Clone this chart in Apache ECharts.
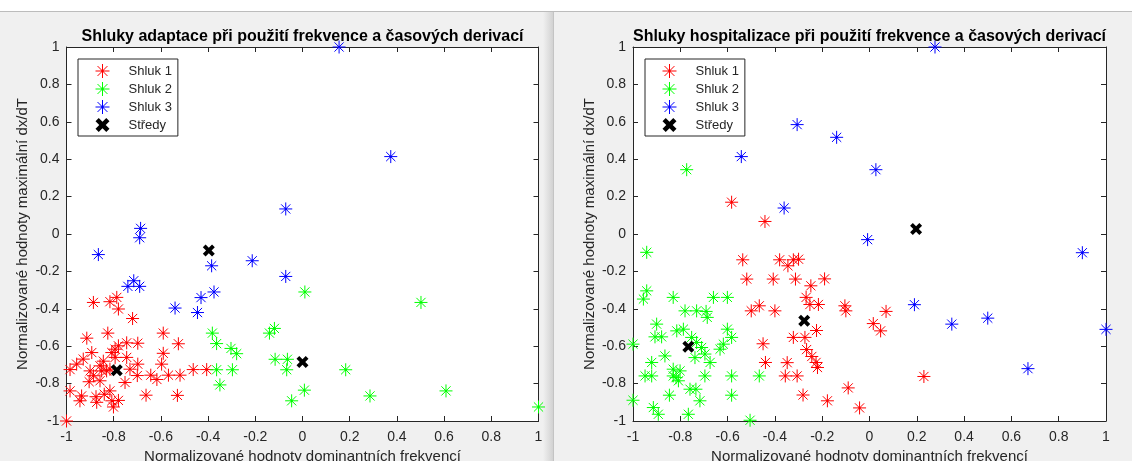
<!DOCTYPE html>
<html>
<head>
<meta charset="utf-8">
<script src="https://cdn.jsdelivr.net/npm/echarts@6/dist/echarts.min.js"></script>
<style>
html,body{margin:0;padding:0;background:#f0f0f0;}
#c{width:1132px;height:461px;}
</style>
</head>
<body>
<div id="c"></div>
<script>
// ---------- DATA ----------
const seriesNames = ['Shluk 1', 'Shluk 2', 'Shluk 3', 'Středy'];
const titles = ['Shluky adaptace při použití frekvence a časových derivací',
                'Shluky hospitalizace při použití frekvence a časových derivací'];
const xAxisName = 'Normalizované hodnoty dominantních frekvencí';
const yAxisName = 'Normalizované hodnoty maximální dx/dT';
const axisMin = -1, axisMax = 1, axisStep = 0.2;

const leftShluk1 = [
  [-0.886,-0.366],[-0.816,-0.362],[-0.787,-0.339],[-0.78,-0.401],[-0.72,-0.452],
  [-0.914,-0.557],[-0.825,-0.53],[-0.59,-0.53],[-0.526,-0.587],[-0.698,-0.584],
  [-0.745,-0.582],[-0.78,-0.598],[-0.794,-0.616],[-0.59,-0.638],[-0.597,-0.696],
  [-0.893,-0.634],[-0.929,-0.669],[-0.957,-0.696],[-0.985,-0.725],[-0.463,-0.725],
  [-0.406,-0.725],[-0.519,-0.755],[-0.568,-0.755],[-0.643,-0.755],[-0.7,-0.757],
  [-0.698,-0.696],[-0.745,-0.66],[-0.617,-0.778],[-0.752,-0.794],[-0.985,-0.839],
  [-0.936,-0.866],[-0.943,-0.892],[-0.875,-0.87],[-0.872,-0.9],[-0.84,-0.857],
  [-0.816,-0.839],[-0.808,-0.892],[-0.801,-0.925],[-0.78,-0.89],[-0.663,-0.862],
  [-0.53,-0.863],[-1.0,-1.0],[-0.858,-0.705],[-0.886,-0.758],[-0.904,-0.79],
  [-0.83,-0.732],[-0.844,-0.68],[-0.794,-0.66],[-0.808,-0.634],[-0.9,-0.732],
  [-0.851,-0.732],[-0.816,-0.723],[-0.731,-0.723],[-0.858,-0.785]
];
const leftShluk2 = [
  [0.01,-0.31],[-0.382,-0.53],[-0.364,-0.586],[-0.303,-0.612],[-0.279,-0.64],
  [-0.119,-0.505],[-0.14,-0.53],[-0.116,-0.67],[-0.064,-0.67],[-0.067,-0.726],
  [-0.364,-0.726],[-0.297,-0.726],[-0.35,-0.807],[-0.046,-0.892],[0.008,-0.835],
  [0.183,-0.726],[0.286,-0.866],[0.502,-0.366],[0.608,-0.839],[1.0,-0.925]
];
const leftShluk3 = [
  [0.155,1.0],[0.374,0.414],[-0.071,0.134],[-0.686,0.03],[-0.69,-0.02],
  [-0.865,-0.11],[-0.385,-0.17],[-0.213,-0.143],[-0.74,-0.28],[-0.715,-0.25],
  [-0.69,-0.28],[-0.43,-0.34],[-0.375,-0.31],[-0.54,-0.396],[-0.445,-0.42],
  [-0.071,-0.227]
];
const leftCenters = [[-0.397,-0.088],[0.0,-0.684],[-0.787,-0.728]];

const rightShluk1 = [
  [-0.583,0.17],[-0.442,0.067],[-0.536,-0.138],[-0.38,-0.138],[-0.345,-0.17],
  [-0.322,-0.138],[-0.3,-0.135],[-0.519,-0.241],[-0.407,-0.241],[-0.313,-0.241],
  [-0.19,-0.24],[-0.248,-0.277],[-0.268,-0.339],[-0.252,-0.377],[-0.216,-0.377],
  [-0.104,-0.384],[-0.1,-0.411],[0.07,-0.414],[0.016,-0.479],[0.047,-0.518],
  [-0.466,-0.384],[-0.5,-0.411],[-0.4,-0.411],[-0.224,-0.516],[-0.322,-0.553],
  [-0.273,-0.553],[-0.45,-0.587],[-0.266,-0.618],[-0.244,-0.655],[-0.226,-0.687],
  [-0.22,-0.714],[-0.44,-0.687],[-0.348,-0.688],[-0.356,-0.759],[-0.306,-0.759],
  [-0.09,-0.823],[-0.281,-0.861],[-0.178,-0.892],[-0.042,-0.93],[0.23,-0.762]
];
const rightShluk2 = [
  [-0.773,0.344],[-0.942,-0.098],[-0.942,-0.304],[-0.956,-0.348],[-0.83,-0.339],
  [-0.78,-0.411],[-0.731,-0.411],[-0.691,-0.414],[-0.686,-0.446],[-0.66,-0.339],
  [-0.601,-0.339],[-0.9,-0.482],[-0.907,-0.55],[-0.879,-0.55],[-1.0,-0.589],
  [-0.815,-0.518],[-0.787,-0.509],[-0.752,-0.553],[-0.731,-0.58],[-0.71,-0.607],
  [-0.738,-0.661],[-0.696,-0.642],[-0.674,-0.687],[-0.865,-0.652],[-0.921,-0.687],
  [-0.949,-0.759],[-0.921,-0.759],[-0.83,-0.723],[-0.801,-0.732],[-0.83,-0.759],
  [-0.818,-0.768],[-0.808,-0.785],[-0.696,-0.759],[-0.632,-0.616],[-0.618,-0.589],
  [-0.601,-0.509],[-0.583,-0.553],[-0.583,-0.759],[-0.466,-0.759],[-0.583,-0.862],
  [-0.846,-0.862],[-0.759,-0.83],[-0.734,-0.83],[-0.717,-0.892],[-1.0,-0.889],
  [-0.914,-0.928],[-0.893,-0.964],[-0.766,-0.964],[-0.505,-0.996]
];
const rightShluk3 = [
  [0.277,1.0],[-0.306,0.585],[-0.139,0.517],[-0.542,0.414],[0.027,0.344],
  [-0.361,0.139],[-0.008,-0.03],[0.19,-0.378],[0.348,-0.482],[0.5,-0.45],
  [0.67,-0.72],[0.9,-0.1],[1.0,-0.51]
];
const rightCenters = [[0.197,0.027],[-0.276,-0.464],[-0.766,-0.603]];

// ---------- STYLE ----------
const FONT = '"Liberation Sans", Arial, Helvetica, sans-serif';
const AX = '#262626';
const colors = ['#ff0000', '#00ff00', '#0000ff', '#000000'];
const STAR = 'path://M10 0L10 20M0 10L20 10M2.93 2.93L17.07 17.07M17.07 2.93L2.93 17.07M9.1 9.1L10.9 9.1L10.9 10.9L9.1 10.9Z';
const XMARK = 'path://M0 2.3L2.3 0L5 2.7L7.7 0L10 2.3L7.3 5L10 7.7L7.7 10L5 7.3L2.3 10L0 7.7L2.7 5Z';

const grids = [
  {left: 66.5, top: 47, width: 472, height: 374},
  {left: 633, top: 47, width: 473, height: 374}
];

const xAxes = [], yAxes = [];
grids.forEach((g, gi) => {
  const base = {
    type: 'value', gridIndex: gi, min: axisMin, max: axisMax, interval: axisStep,
    axisLine: {show: true, onZero: false, lineStyle: {color: AX, width: 1}},
    axisTick: {show: true, inside: true, length: 5, lineStyle: {color: AX, width: 1}},
    splitLine: {show: false}
  };
  xAxes.push(Object.assign({}, base, {
    position: 'bottom',
    axisLabel: {show: true, margin: 9, color: AX, fontSize: 14, fontFamily: FONT},
    name: xAxisName, nameLocation: 'middle', nameGap: 27,
    nameTextStyle: {color: AX, fontSize: 15, fontFamily: FONT}
  }));
  xAxes.push(Object.assign({}, base, {position: 'top', axisLabel: {show: false}}));
  yAxes.push(Object.assign({}, base, {
    position: 'left',
    axisLabel: {show: true, margin: 7, color: AX, fontSize: 14, fontFamily: FONT},
    name: yAxisName, nameLocation: 'middle', nameGap: 36,
    nameTextStyle: {color: AX, fontSize: 15, fontFamily: FONT}
  }));
  yAxes.push(Object.assign({}, base, {position: 'right', axisLabel: {show: false}}));
});

function mk(name, data, gi, idx) {
  const isCenter = idx === 3;
  return {
    type: 'scatter', name: name, data: data,
    xAxisIndex: gi * 2, yAxisIndex: gi * 2,
    symbol: isCenter ? XMARK : STAR,
    symbolSize: isCenter ? 12 : 13,
    clip: false,
    itemStyle: {color: colors[idx], borderColor: colors[idx], borderWidth: isCenter ? 0 : 1, opacity: 1},
    emphasis: {disabled: true},
    z: 2 + idx
  };
}

const series = [
  mk(seriesNames[0], leftShluk1, 0, 0),
  mk(seriesNames[1], leftShluk2, 0, 1),
  mk(seriesNames[2], leftShluk3, 0, 2),
  mk(seriesNames[3], leftCenters, 0, 3),
  mk(seriesNames[0], rightShluk1, 1, 0),
  mk(seriesNames[1], rightShluk2, 1, 1),
  mk(seriesNames[2], rightShluk3, 1, 2),
  mk(seriesNames[3], rightCenters, 1, 3)
];

function legendAt(left) {
  return {
    left: left, top: 59, orient: 'vertical',
    data: seriesNames.map((n, i) => ({name: n, itemStyle: {borderWidth: i === 3 ? 0 : 1}})),
    backgroundColor: '#ffffff', borderColor: AX, borderWidth: 1, borderRadius: 0,
    padding: [4, 6, 3, 17], itemWidth: 42, itemHeight: 14, itemGap: 2,
    selectedMode: false,
    textStyle: {fontSize: 13, color: AX, fontFamily: FONT, lineHeight: 16}
  };
}

const chart = echarts.init(document.getElementById('c'), null, {renderer: 'canvas'});
chart.setOption({
  animation: false,
  backgroundColor: '#f0f0f0',
  title: titles.map((t, i) => ({
    text: t,
    left: grids[i].left + grids[i].width / 2,
    textAlign: 'center',
    top: 29,
    padding: 0,
    textStyle: {fontSize: 16, fontWeight: 'bold', color: '#000', fontFamily: FONT}
  })),
  legend: [legendAt(78), legendAt(645)],
  grid: grids.map(g => Object.assign({show: true, backgroundColor: '#ffffff', borderWidth: 0, containLabel: false, outerBoundsMode: 'none'}, g)),
  xAxis: xAxes,
  yAxis: yAxes,
  series: series,
  graphic: [
    {type: 'rect', shape: {x: 0, y: 0, width: 1132, height: 11}, style: {fill: '#ffffff'}, z: -10, silent: true},
    {type: 'line', shape: {x1: 0, y1: 11.5, x2: 1132, y2: 11.5}, style: {stroke: '#bcbcbc', lineWidth: 1}, z: -10, silent: true},
    {type: 'rect', shape: {x: 543, y: 12, width: 10, height: 449},
     style: {fill: new echarts.graphic.LinearGradient(0, 0, 1, 0, [{offset: 0, color: '#f0f0f0'}, {offset: 1, color: '#d2d2d2'}])}, z: -10, silent: true},
    {type: 'line', shape: {x1: 553.5, y1: 12, x2: 553.5, y2: 461}, style: {stroke: '#c4c4c4', lineWidth: 1}, z: -10, silent: true}
  ]
});
</script>
</body>
</html>
